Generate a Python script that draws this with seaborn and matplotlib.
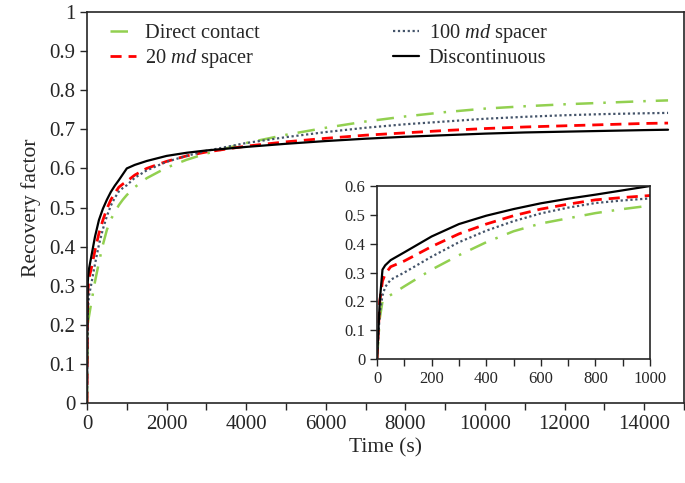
import matplotlib
matplotlib.use('Agg')
import matplotlib.pyplot as plt
import seaborn as sns
from matplotlib.ticker import MultipleLocator

# time (s) and recovery factor
time = [0, 10, 20, 30, 50, 100, 200, 300, 400, 500, 600, 700, 800, 900, 1000,
        1200, 1500, 2000, 2500, 3000, 4000, 5000, 6000, 7000, 8000, 9000, 10000,
        11000, 12000, 13000, 14000, 14600]
direct = [0, 0.14, 0.20, 0.21, 0.222, 0.252, 0.31, 0.36, 0.405, 0.443, 0.47, 0.488, 0.506, 0.52, 0.532,
          0.552, 0.575, 0.602, 0.622, 0.638, 0.665, 0.686, 0.704, 0.72, 0.733, 0.744, 0.753,
          0.759, 0.764, 0.768, 0.772, 0.774]
spacer20 = [0, 0.20, 0.27, 0.295, 0.32, 0.34, 0.39, 0.434, 0.468, 0.497, 0.52, 0.537, 0.552, 0.56, 0.567,
            0.583, 0.60, 0.618, 0.632, 0.642, 0.657, 0.668, 0.677, 0.685, 0.691, 0.697, 0.702,
            0.706, 0.709, 0.712, 0.715, 0.716]
spacer100 = [0, 0.16, 0.22, 0.25, 0.275, 0.30, 0.355, 0.405, 0.445, 0.478, 0.505, 0.525, 0.541, 0.55, 0.557,
             0.576, 0.595, 0.617, 0.632, 0.645, 0.665, 0.68, 0.693, 0.704, 0.713, 0.72, 0.727,
             0.732, 0.736, 0.739, 0.741, 0.742]
discont = [0, 0.20, 0.31, 0.325, 0.343, 0.37, 0.425, 0.468, 0.497, 0.52, 0.54, 0.556, 0.57, 0.585, 0.60,
           0.609, 0.619, 0.632, 0.64, 0.646, 0.655, 0.663, 0.67, 0.676, 0.681, 0.685, 0.689,
           0.692, 0.694, 0.696, 0.698, 0.699]

labels = ['Direct contact', r'20 $\it{md}$ spacer', r'100 $\it{md}$ spacer', 'Discontinuous']

sns.set_style('ticks')
plt.rcParams['font.family'] = ['Liberation Serif', 'DejaVu Serif']
plt.rcParams['mathtext.fontset'] = 'custom'
plt.rcParams['mathtext.rm'] = 'Liberation Serif'
plt.rcParams['mathtext.it'] = 'Liberation Serif:italic'

styles = [
    dict(color='#92D050', ls=(0, (7, 4, 1, 4)), lw=1.8),
    dict(color='#FF0000', ls=(0, (4, 2.5)), lw=2.0),
    dict(color='#44546A', ls=(0, (1, 1.2)), lw=1.6),
    dict(color='black', ls='-', lw=1.6),
]
series = [direct, spacer20, spacer100, discont]


def g_fmt(v, pos):
    return f'{round(v, 2):g}'


fig = plt.figure(figsize=(6.85, 4.83), dpi=100)
ax = fig.add_axes([0.127, 0.1656, 0.8715, 0.8095])
for vals, lab, st in zip(series, labels, styles):
    sns.lineplot(x=time, y=vals, ax=ax, label=lab, **st)

ax.set_xlim(0, 15000)
ax.set_ylim(0, 1)
ax.xaxis.set_major_locator(MultipleLocator(2000))
ax.xaxis.set_minor_locator(MultipleLocator(1000))
ax.yaxis.set_major_locator(MultipleLocator(0.1))
ax.yaxis.set_major_formatter(g_fmt)
ax.xaxis.set_ticks_position('bottom')
ax.yaxis.set_ticks_position('left')
ax.tick_params(which='both', direction='out', length=5, width=1, labelsize=15)
for s in ax.spines.values():
    s.set_linewidth(1.2)
ax.set_xlabel('Time (s)', fontsize=15.5, labelpad=3)
ax.set_ylabel('Recovery factor', fontsize=15.5, labelpad=6)

leg = ax.legend(ncol=2, loc='upper left', bbox_to_anchor=(0.038, 0.975), frameon=False,
                fontsize=14.7, handlelength=1.3, handletextpad=0.45, columnspacing=6.5,
                labelspacing=0.2, borderpad=0, borderaxespad=0)

# inset zoom on the first 1000 s
ins = fig.add_axes([0.5504, 0.2567, 0.3986, 0.3582])
t_in = [t for t in time if t <= 1000]
n = len(t_in)
for vals, st in zip(series, styles):
    sns.lineplot(x=t_in, y=vals[:n], ax=ins, **st)
ins.set_xlim(0, 1000)
ins.set_ylim(0, 0.6)
ins.xaxis.set_major_locator(MultipleLocator(200))
ins.xaxis.set_minor_locator(MultipleLocator(100))
ins.yaxis.set_major_locator(MultipleLocator(0.1))
ins.yaxis.set_major_formatter(g_fmt)
ins.xaxis.set_ticks_position('bottom')
ins.yaxis.set_ticks_position('left')
ins.tick_params(which='both', direction='out', length=5, width=1, labelsize=12)
for s in ins.spines.values():
    s.set_linewidth(1.2)

fig.savefig('out.png', dpi=100)
